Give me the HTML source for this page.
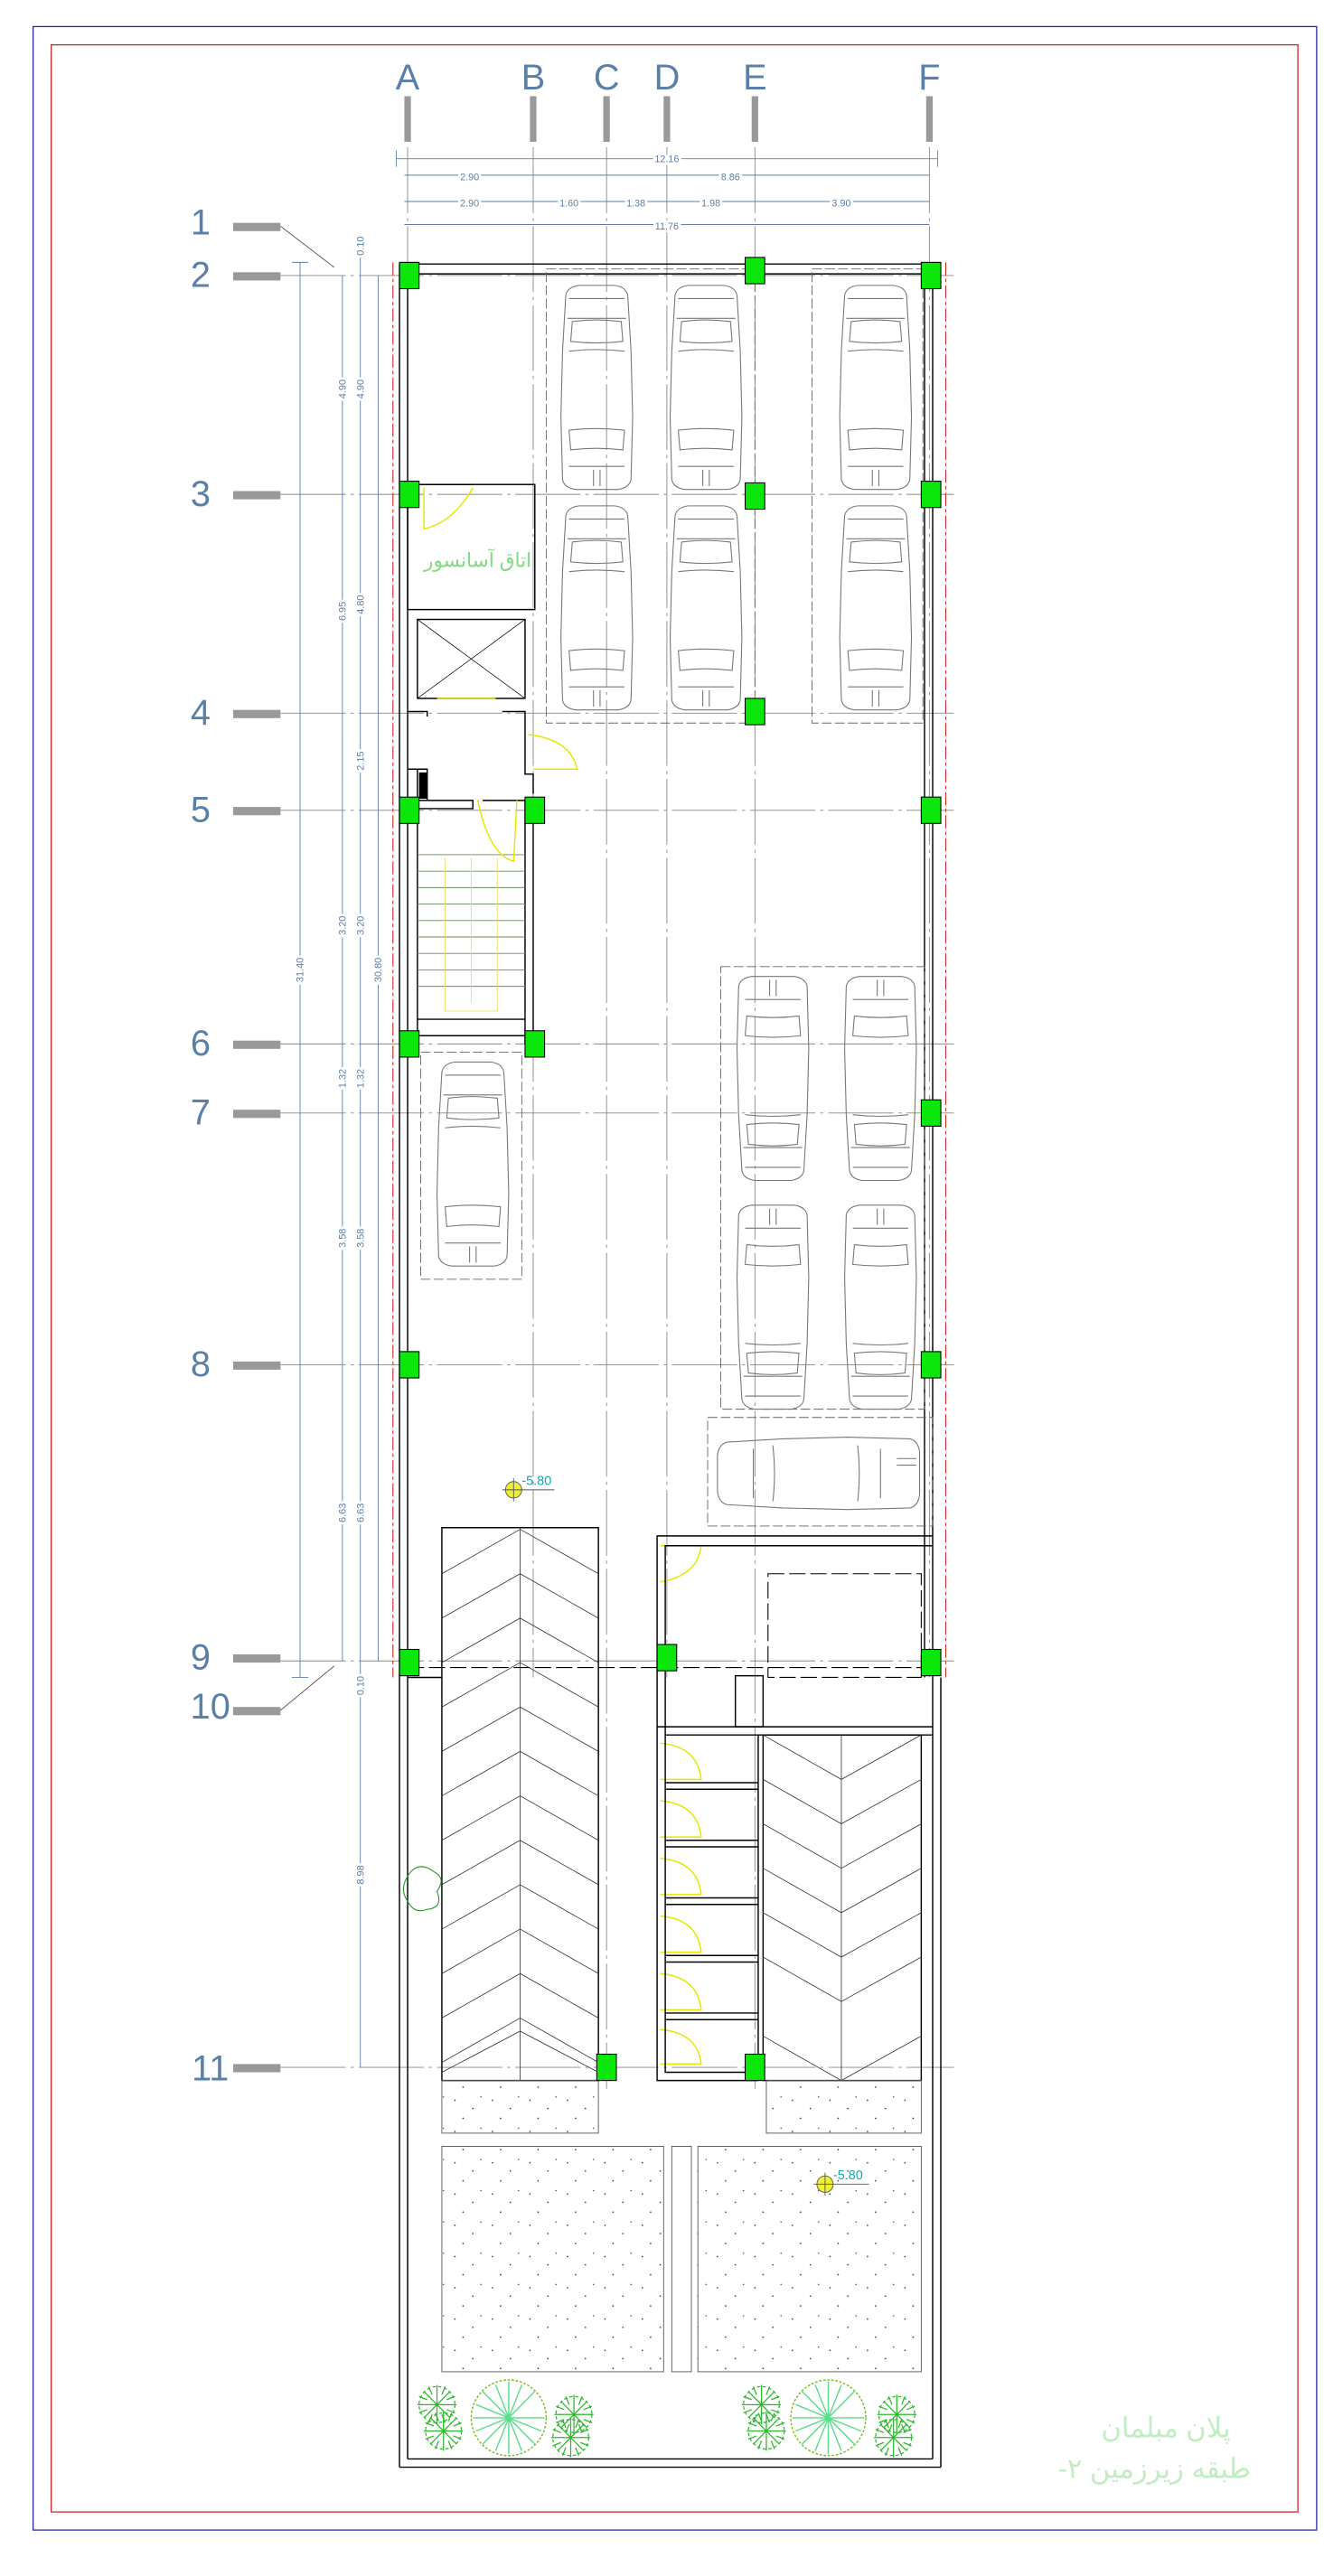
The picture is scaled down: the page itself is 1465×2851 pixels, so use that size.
<!DOCTYPE html>
<html><head><meta charset="utf-8"><style>html,body{margin:0;padding:0;background:#fff}svg{display:block}</style></head>
<body>
<svg width="1465" height="2851" viewBox="0 0 812 1580" preserveAspectRatio="none" xmlns="http://www.w3.org/2000/svg" font-family="Liberation Sans, sans-serif">
<defs>
<g id="car" fill="none" stroke="#777" stroke-width="0.6">
<path d="M4,6 Q5,1 12,0 L34,0 Q41,1 42,6 L44,40 L45,80 L44,118 Q43,123 36,124 L10,124 Q3,123 2,118 L1,80 L2,40 Z"/>
<path d="M6,8 L40,8 M5,20 L41,20 M8,22 Q23,20 38,22 L39,34 Q23,36 7,34 Z M6,40 Q23,38 40,40 M6,88 Q23,86 40,88 L39,100 Q23,98 7,100 Z M6,110 L40,110 M21,112 L21,122 M25,112 L25,122"/>
</g>
<g id="carh" fill="none" stroke="#777" stroke-width="0.6">
<path d="M6,4 Q1,5 0,12 L0,34 Q1,41 6,42 L40,44 L80,45 L118,44 Q123,43 124,36 L124,10 Q123,3 118,2 L80,1 L40,2 Z"/>
<path d="M22,8 L22,38 M34,6 Q36,23 34,40 M86,6 Q88,23 86,40 M100,8 L100,38 M110,14 L122,14 M110,18 L122,18"/>
</g>
<pattern id="dots" width="23" height="19" patternUnits="userSpaceOnUse">
<circle cx="3" cy="4" r="0.45" fill="#333"/><circle cx="14" cy="9" r="0.45" fill="#333"/><circle cx="8" cy="15" r="0.45" fill="#333"/><circle cx="19" cy="2" r="0.4" fill="#333"/>
</pattern>
<g id="col"><rect x="-6" y="-8" width="12" height="16" fill="#0be60b" stroke="#000" stroke-width="0.6"/></g>
<g id="tree" fill="none" stroke="#2db82d" stroke-width="0.7">
<path d="M0,-12 L0,12 M-12,0 L12,0 M-8,-8 L8,8 M-8,8 L8,-8 M-5,-11 L-3,-6 M5,-11 L3,-6 M-11,5 L-6,3 M11,5 L6,3 M-11,-5 L-6,-3 M11,-5 L6,-3 M-5,11 L-3,6 M5,11 L3,6"/>
<circle r="11" stroke-dasharray="2 1.5"/>
</g>
<g id="btree" fill="none" stroke="#8ccf3a" stroke-width="0.8">
<circle r="23" stroke="#7dbb20" stroke-dasharray="1.5 1"/>
<path d="M0,-22 L0,22 M-22,0 L22,0 M-16,-16 L16,16 M-16,16 L16,-16 M-8,-20 L0,0 L8,-20 M-20,8 L0,0 L-20,-8 M20,8 L0,0 M8,20 L0,0 L-8,20" stroke="#5cdc8c"/>
</g>
</defs>

<!-- frames -->
<rect x="20.3" y="16.3" width="787.2" height="1535.5" fill="none" stroke="#2222aa" stroke-width="0.7"/>
<rect x="31.4" y="27.5" width="764.6" height="1513.2" fill="none" stroke="#cc2222" stroke-width="0.7"/>

<!-- grid labels columns -->
<g fill="#5a7fa8" font-size="22" text-anchor="middle">
<text x="250" y="55">A</text><text x="327" y="55">B</text><text x="372" y="55">C</text><text x="409" y="55">D</text><text x="463" y="55">E</text><text x="570" y="55">F</text>
</g>
<g fill="#999">
<rect x="248" y="59" width="4" height="28"/><rect x="325" y="59" width="4" height="28"/><rect x="370" y="59" width="4" height="28"/><rect x="407" y="59" width="4" height="28"/><rect x="461" y="59" width="4" height="28"/><rect x="568" y="59" width="4" height="28"/>
</g>

<g transform="matrix(1 0 0 1.0092 0 -0.55)">
<!-- row labels -->
<g fill="#5a7fa8" font-size="22" text-anchor="middle">
<text x="123" y="143">1</text><text x="123" y="175">2</text><text x="123" y="308">3</text><text x="123" y="441">4</text><text x="123" y="500">5</text><text x="123" y="642">6</text><text x="123" y="684">7</text><text x="123" y="837">8</text><text x="123" y="1015">9</text><text x="129" y="1045">10</text><text x="129" y="1265">11</text>
</g>
<g fill="#999">
<rect x="143" y="136" width="29" height="5"/><rect x="143" y="166" width="29" height="5"/><rect x="143" y="299" width="29" height="5"/><rect x="143" y="432" width="29" height="5"/><rect x="143" y="491" width="29" height="5"/><rect x="143" y="633" width="29" height="5"/><rect x="143" y="675" width="29" height="5"/><rect x="143" y="828" width="29" height="5"/><rect x="143" y="1006" width="29" height="5"/><rect x="143" y="1038" width="29" height="5"/><rect x="143" y="1255" width="29" height="5"/>
</g>
<g stroke="#555" stroke-width="0.5"><line x1="172" y1="138" x2="205" y2="163"/><line x1="172" y1="1040" x2="205" y2="1013"/></g>

<!-- grid lines -->
<g stroke="#888" stroke-width="0.5" stroke-dasharray="40 3 2 3">
<line x1="172" y1="168" x2="585" y2="168"/><line x1="172" y1="301" x2="585" y2="301"/><line x1="172" y1="434" x2="585" y2="434"/><line x1="172" y1="493" x2="585" y2="493"/><line x1="172" y1="635" x2="585" y2="635"/><line x1="172" y1="677" x2="585" y2="677"/><line x1="172" y1="830" x2="585" y2="830"/><line x1="172" y1="1010" x2="585" y2="1010"/><line x1="172" y1="1257" x2="585" y2="1257"/>
<line x1="250" y1="90" x2="250" y2="1020"/><line x1="327" y1="90" x2="327" y2="1020"/><line x1="372" y1="90" x2="372" y2="1270"/><line x1="409" y1="90" x2="409" y2="1020"/><line x1="463" y1="90" x2="463" y2="1270"/><line x1="570" y1="90" x2="570" y2="1020"/>
</g>

<!-- top dims -->
<g stroke="#5a7fa8" stroke-width="0.5" fill="none">
<line x1="243" y1="97" x2="575" y2="97"/><line x1="248" y1="107" x2="570" y2="107"/><line x1="248" y1="123" x2="570" y2="123"/><line x1="248" y1="137" x2="570" y2="137"/>
<line x1="243" y1="92" x2="243" y2="102"/><line x1="575" y1="92" x2="575" y2="102"/>
</g>
<g fill="#5a7fa8" font-size="6" text-anchor="middle">
<text x="409" y="99" style="paint-order:stroke" stroke="#fff" stroke-width="3">12.16</text>
<text x="288" y="110" stroke="#fff" stroke-width="3" style="paint-order:stroke">2.90</text><text x="448" y="110" stroke="#fff" stroke-width="3" style="paint-order:stroke">8.86</text>
<text x="288" y="126" stroke="#fff" stroke-width="3" style="paint-order:stroke">2.90</text><text x="349" y="126" stroke="#fff" stroke-width="3" style="paint-order:stroke">1.60</text><text x="390" y="126" stroke="#fff" stroke-width="3" style="paint-order:stroke">1.38</text><text x="436" y="126" stroke="#fff" stroke-width="3" style="paint-order:stroke">1.98</text><text x="516" y="126" stroke="#fff" stroke-width="3" style="paint-order:stroke">3.90</text>
<text x="409" y="140" stroke="#fff" stroke-width="3" style="paint-order:stroke">11.76</text>
</g>
<!-- left dims -->
<g stroke="#5a7fa8" stroke-width="0.5">
<line x1="184" y1="160" x2="184" y2="1020"/><line x1="210" y1="168" x2="210" y2="1010"/><line x1="221" y1="150" x2="221" y2="1257"/><line x1="232" y1="168" x2="232" y2="1010"/>
<line x1="179" y1="160" x2="189" y2="160"/><line x1="179" y1="1020" x2="189" y2="1020"/>
</g>
<g fill="#5a7fa8" font-size="6" text-anchor="middle" stroke="#fff" stroke-width="3" style="paint-order:stroke">
<text transform="translate(186,590) rotate(-90)">31.40</text><text transform="translate(234,590) rotate(-90)">30.80</text>
<text transform="translate(212,237) rotate(-90)">4.90</text><text transform="translate(223,237) rotate(-90)">4.90</text>
<text transform="translate(212,372) rotate(-90)">6.95</text><text transform="translate(223,368) rotate(-90)">4.80</text>
<text transform="translate(223,463) rotate(-90)">2.15</text>
<text transform="translate(212,563) rotate(-90)">3.20</text><text transform="translate(223,563) rotate(-90)">3.20</text>
<text transform="translate(212,656) rotate(-90)">1.32</text><text transform="translate(223,656) rotate(-90)">1.32</text>
<text transform="translate(212,753) rotate(-90)">3.58</text><text transform="translate(223,753) rotate(-90)">3.58</text>
<text transform="translate(212,920) rotate(-90)">6.63</text><text transform="translate(223,920) rotate(-90)">6.63</text>
<text transform="translate(223,150) rotate(-90)">0.10</text><text transform="translate(223,1025) rotate(-90)">0.10</text>
<text transform="translate(223,1140) rotate(-90)">8.98</text>
</g>

<!-- red dashed boundary -->
<g stroke="#cc2222" stroke-width="0.6" stroke-dasharray="8 2 2 2"><line x1="241" y1="160" x2="241" y2="1020"/><line x1="580" y1="160" x2="580" y2="1020"/></g>

<!-- walls -->
<g fill="none" stroke="#000" stroke-width="0.8">
<line x1="245" y1="161" x2="577" y2="161"/><line x1="245" y1="167" x2="577" y2="167"/>
<line x1="245" y1="161" x2="245" y2="1500"/><line x1="250" y1="167" x2="250" y2="1495"/>
<line x1="567" y1="167" x2="567" y2="1020"/><line x1="572" y1="161" x2="572" y2="1020"/>
<line x1="572" y1="1020" x2="572" y2="1495"/><line x1="577" y1="1020" x2="577" y2="1500"/>
<line x1="245" y1="1500" x2="577" y2="1500"/><line x1="250" y1="1495" x2="572" y2="1495"/>
<rect x="250" y="295" width="78" height="76"/><line x1="258" y1="295" x2="290" y2="295"/>
<rect x="256" y="377" width="66" height="48"/><line x1="256" y1="377" x2="322" y2="425" stroke-width="0.4"/><line x1="322" y1="377" x2="256" y2="425" stroke-width="0.4"/>
<path d="M250,433 L262,433 L262,436 M308,433 L322,433 L322,471 L327,471 L327,483"/>
<path d="M250,468 L262,468 L262,487 M256,468 L256,487 M250,487 L290,487 L290,492 L256,492 M296,487 L322,487 L322,635 M327,492 L327,635 M256,492 L256,635"/>
<line x1="256" y1="620" x2="322" y2="620"/><line x1="256" y1="630" x2="322" y2="630"/>
</g>
<path d="M257,470 L262,470 L262,486 L257,486 Z" fill="#000"/>
<g stroke="#6a8a5a" stroke-width="0.5"><line x1="256" y1="520" x2="322" y2="520"/><line x1="256" y1="530" x2="322" y2="530"/><line x1="256" y1="540" x2="322" y2="540"/><line x1="256" y1="550" x2="322" y2="550"/><line x1="256" y1="560" x2="322" y2="560"/><line x1="256" y1="570" x2="322" y2="570"/><line x1="256" y1="580" x2="322" y2="580"/><line x1="256" y1="590" x2="322" y2="590"/><line x1="256" y1="600" x2="322" y2="600"/></g>
<g stroke="#e8dc70" stroke-width="0.5" fill="none"><path d="M273,522 L273,615 L305,615 L305,522 M289,522 L289,610"/></g>
<g stroke="#e6e600" stroke-width="0.8" fill="none">
<path d="M260,297 L260,322 Q278,318 290,297"/><path d="M268,425 L304,425"/><path d="M324,447 Q350,450 354,468 L327,468"/><path d="M293,487 Q300,520 315,524 L317,487"/>
<path d="M405,940 L430,940 Q428,958 405,962"/><path d="M405,1060 Q428,1062 430,1082 L405,1082 M405,1095 Q428,1097 430,1117 L405,1117 M405,1130 Q428,1132 430,1152 L405,1152 M405,1165 Q428,1167 430,1187 L405,1187 M405,1200 Q428,1202 430,1222 L405,1222 M405,1234 Q428,1236 430,1255 L405,1255"/>
</g>
<text x="293" y="345" font-size="12" fill="#7fdc7f" text-anchor="middle" font-family="Liberation Sans, DejaVu Sans, sans-serif">اتاق آسانسور</text>

<g fill="none" stroke="#666" stroke-width="0.5" stroke-dasharray="6 2">
<rect x="335" y="164" width="128" height="276"/><rect x="498" y="164" width="68" height="276"/>
<rect x="442" y="588" width="125" height="269"/><rect x="434" y="862" width="138" height="66"/>
<rect x="258" y="640" width="62" height="138"/>
</g>
<use href="#car" x="343" y="174"/><use href="#car" x="410" y="174"/><use href="#car" x="514" y="174"/>
<use href="#car" x="343" y="308"/><use href="#car" x="410" y="308"/><use href="#car" x="514" y="308"/>
<use href="#car" transform="translate(497,718) rotate(180)"/><use href="#car" transform="translate(563,718) rotate(180)"/>
<use href="#car" transform="translate(497,857) rotate(180)"/><use href="#car" transform="translate(563,857) rotate(180)"/>
<use href="#car" x="267" y="646"/>
<use href="#carh" x="440" y="873"/>

<g fill="none" stroke="#000" stroke-width="0.8">
<rect x="271" y="929" width="96" height="336"/>
<path d="M403,1050 L403,934 L572,934 M408,1050 L408,940 L572,940"/>
<path d="M403,1050 L572,1050 M408,1055 L572,1055 M403,1050 L403,1265 L465,1265 M408,1050 L408,1260 L465,1260"/>
<rect x="468" y="1055" width="97" height="210"/>
<rect x="451" y="1019" width="17" height="31"/>
<path d="M408,1084 L465,1084 M408,1088 L465,1088 M408,1119 L465,1119 M408,1123 L465,1123 M408,1154 L465,1154 M408,1158 L465,1158 M408,1189 L465,1189 M408,1193 L465,1193 M408,1224 L465,1224 M408,1228 L465,1228 M465,1055 L465,1265"/>
<line x1="250" y1="1020" x2="271" y2="1020"/>
</g>
<rect x="471" y="957" width="94" height="63" fill="none" stroke="#000" stroke-width="0.6" stroke-dasharray="10 3"/>
<line x1="250" y1="1014" x2="572" y2="1014" stroke="#000" stroke-width="0.6" stroke-dasharray="10 3"/>
<g stroke="#333" stroke-width="0.45" fill="none">
<path d="M271,957 L319,930 L367,957 M271,984 L319,957 L367,984 M271,1011 L319,984 L367,1011 M271,1038 L319,1011 L367,1038 M271,1065 L319,1038 L367,1065 M271,1092 L319,1065 L367,1092 M271,1119 L319,1092 L367,1119 M271,1146 L319,1119 L367,1146 M271,1173 L319,1146 L367,1173 M271,1200 L319,1173 L367,1200 M271,1227 L319,1200 L367,1227 M271,1254 L319,1227 L367,1254 M271,1260 L319,1235 L367,1260 M319,929 L319,1265"/>
<path d="M468,1055 L516,1082 L565,1055 M468,1082 L516,1109 L565,1082 M468,1109 L516,1136 L565,1109 M468,1136 L516,1163 L565,1136 M468,1163 L516,1190 L565,1163 M468,1190 L516,1217 L565,1190 M468,1238 L516,1265 L565,1238 M516,1055 L516,1265"/>
</g>
<g stroke="#555" stroke-width="0.5">
<rect x="271" y="1265" width="96" height="32" fill="url(#dots)"/><rect x="470" y="1265" width="95" height="32" fill="url(#dots)"/>
<rect x="271" y="1305" width="136" height="137" fill="url(#dots)"/><rect x="412" y="1305" width="12" height="137" fill="#fff"/><rect x="428" y="1305" width="137" height="137" fill="url(#dots)"/>
</g>
<use href="#col" x="251" y="168"/><use href="#col" x="463" y="165"/><use href="#col" x="571" y="168"/>
<use href="#col" x="251" y="301"/><use href="#col" x="463" y="302"/><use href="#col" x="571" y="301"/>
<use href="#col" x="463" y="433"/>
<use href="#col" x="251" y="493"/><use href="#col" x="328" y="493"/><use href="#col" x="571" y="493"/>
<use href="#col" x="251" y="635"/><use href="#col" x="328" y="635"/>
<use href="#col" x="571" y="677"/>
<use href="#col" x="251" y="830"/><use href="#col" x="571" y="830"/>
<use href="#col" x="251" y="1011"/><use href="#col" x="409" y="1008"/><use href="#col" x="571" y="1011"/>
<use href="#col" x="372" y="1257"/><use href="#col" x="463" y="1257"/>
<g font-size="8" fill="#1aa8a8">
<circle cx="315" cy="906" r="5" fill="#ee3" stroke="#555" stroke-width="0.5"/><line x1="308" y1="906" x2="340" y2="906" stroke="#555" stroke-width="0.5"/><line x1="315" y1="899" x2="315" y2="913" stroke="#555" stroke-width="0.5"/><text x="320" y="903">-5.80</text>
<circle cx="506" cy="1328" r="5" fill="#ee3" stroke="#555" stroke-width="0.5"/><line x1="499" y1="1328" x2="533" y2="1328" stroke="#555" stroke-width="0.5"/><line x1="506" y1="1321" x2="506" y2="1335" stroke="#555" stroke-width="0.5"/><text x="511" y="1325">-5.80</text>
</g>
<path d="M252,1138 Q258,1132 266,1138 Q274,1142 268,1150 Q272,1160 262,1161 Q254,1164 250,1156 Q244,1148 252,1138 Z" fill="none" stroke="#2a9a2a" stroke-width="0.6"/>
<use href="#tree" x="268" y="1462"/><use href="#tree" x="272" y="1478"/><use href="#btree" x="312" y="1470"/><use href="#tree" x="352" y="1468"/><use href="#tree" x="350" y="1482"/>
<use href="#tree" x="467" y="1462"/><use href="#tree" x="470" y="1478"/><use href="#btree" x="508" y="1470"/><use href="#tree" x="550" y="1468"/><use href="#tree" x="548" y="1482"/>
</g>

<g fill="#c2ecc2" font-size="17" text-anchor="middle" font-family="Liberation Sans, DejaVu Sans, sans-serif">
<text x="715" y="1495">پلان مبلمان</text><text x="708" y="1520" direction="rtl">طبقه زیرزمین ۲-</text>
</g>
</svg>
</body></html>
